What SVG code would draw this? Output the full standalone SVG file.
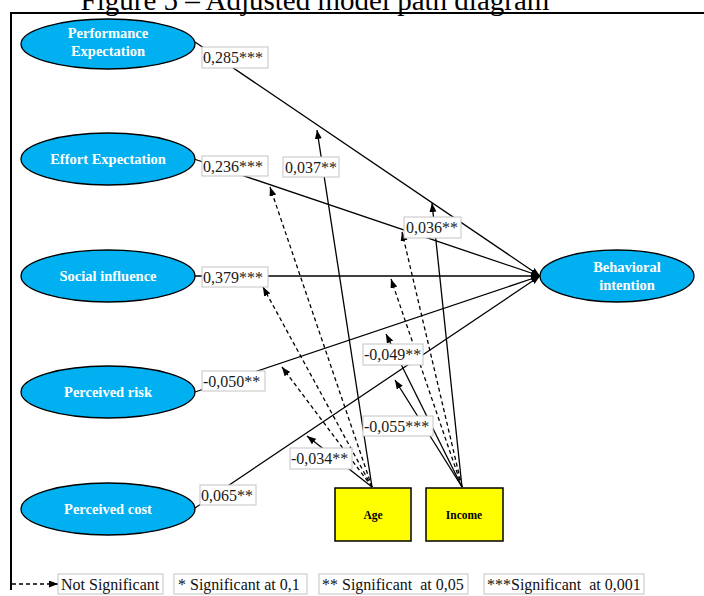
<svg xmlns="http://www.w3.org/2000/svg" width="704" height="596" viewBox="0 0 704 596">
<defs>
<marker id="ah" markerUnits="userSpaceOnUse" markerWidth="10" markerHeight="8" refX="9" refY="3.5" orient="auto">
<path d="M0,0 L9,3.5 L0,7 z" fill="#000"/>
</marker>
<style>
.ell{fill:#00B0F0;stroke:#000;stroke-width:1.3}
.et{font-family:"Liberation Serif","Times New Roman",serif;font-weight:bold;font-size:14.5px;fill:#fff;text-anchor:middle}
.box{fill:#FFFF00;stroke:#000;stroke-width:1.5}
.bt{font-family:"Liberation Serif","Times New Roman",serif;font-weight:bold;font-size:11.5px;fill:#000;text-anchor:middle}
.ln{stroke:#000;stroke-width:1.3;fill:none}
.arr{marker-end:url(#ah)}
.dash{stroke-dasharray:4 3}
.lb{fill:#fff;stroke:#c4c4c4;stroke-width:1}
.lt{font-family:"Liberation Serif","Times New Roman",serif;font-size:16px;fill:#1a1a1a}
.lg{font-family:"Liberation Serif","Times New Roman",serif;font-size:16px;fill:#111;white-space:pre}
</style>
</defs>
<rect width="704" height="596" fill="#fff"/>
<text x="315" y="10" font-family="'Liberation Serif','Times New Roman',serif" font-size="29" fill="#000" text-anchor="middle">Figure 5 – Adjusted model path diagram</text>
<g id="frame">
<line x1="10" y1="13" x2="704" y2="13" stroke="#000" stroke-width="2"/>
<line x1="11" y1="12" x2="11" y2="590" stroke="#000" stroke-width="2"/>
</g>
<g id="connectors">
<line class="ln arr" x1="195" y1="42" x2="540" y2="276"/>
<line class="ln arr" x1="194" y1="159" x2="540" y2="276"/>
<line class="ln arr" x1="195" y1="276" x2="540" y2="276"/>
<line class="ln arr" x1="195" y1="392" x2="540" y2="276"/>
<line class="ln arr" x1="195" y1="508" x2="540" y2="276"/>
<line class="ln arr" x1="372" y1="487" x2="317" y2="130"/>
<line class="ln arr" x1="372" y1="487" x2="307" y2="436"/>
<line class="ln arr dash" x1="372" y1="487" x2="270" y2="187"/>
<line class="ln arr dash" x1="372" y1="487" x2="263" y2="287"/>
<line class="ln arr dash" x1="372" y1="487" x2="282" y2="367"/>
<line class="ln arr" x1="462" y1="487" x2="432" y2="203"/>
<line class="ln arr" x1="462" y1="487" x2="386" y2="334"/>
<line class="ln arr" x1="462" y1="487" x2="395" y2="380"/>
<line class="ln arr dash" x1="462" y1="487" x2="402" y2="232"/>
<line class="ln arr dash" x1="462" y1="487" x2="391" y2="279"/>
</g>
<g id="labels">
<rect class="lb" x="202" y="47" width="66" height="21"/><text class="lt" x="203" y="63">0,285***</text>
<rect class="lb" x="202" y="156" width="66" height="20"/><text class="lt" x="203" y="172">0,236***</text>
<rect class="lb" x="202" y="267" width="66" height="20"/><text class="lt" x="203" y="283">0,379***</text>
<rect class="lb" x="202" y="371" width="63" height="20"/><text class="lt" x="203" y="387">-0,050**</text>
<rect class="lb" x="200" y="485" width="56" height="20"/><text class="lt" x="201" y="501">0,065**</text>
<rect class="lb" x="283" y="157" width="56" height="20"/><text class="lt" x="285" y="173">0,037**</text>
<rect class="lb" x="404" y="217" width="57" height="21"/><text class="lt" x="406" y="233">0,036**</text>
<rect class="lb" x="363" y="344" width="60" height="21"/><text class="lt" x="364" y="360">-0,049**</text>
<rect class="lb" x="363" y="416" width="70" height="20"/><text class="lt" x="364" y="432">-0,055***</text>
<rect class="lb" x="290" y="448" width="62" height="21"/><text class="lt" x="291" y="464">-0,034**</text>
</g>
<g id="perf"><ellipse class="ell" cx="108" cy="44" rx="87" ry="25"/><text class="et" x="108" y="38">Performance</text><text class="et" x="108" y="56">Expectation</text></g>
<g id="effort"><ellipse class="ell" cx="108" cy="159" rx="87" ry="26"/><text class="et" x="108" y="164">Effort Expectation</text></g>
<g id="social"><ellipse class="ell" cx="108" cy="276" rx="87" ry="26"/><text class="et" x="108" y="281">Social influence</text></g>
<g id="risk"><ellipse class="ell" cx="108" cy="392" rx="87" ry="26"/><text class="et" x="108" y="397">Perceived risk</text></g>
<g id="cost"><ellipse class="ell" cx="108" cy="509" rx="87" ry="26"/><text class="et" x="108" y="514">Perceived cost</text></g>
<g id="bi"><ellipse class="ell" cx="617" cy="276" rx="77" ry="26"/><text class="et" x="627" y="272">Behavioral</text><text class="et" x="627" y="290">intention</text></g>
<g id="age"><rect class="box" x="335" y="488" width="76" height="53"/><text class="bt" x="373" y="519">Age</text></g>
<g id="income"><rect class="box" x="426" y="488" width="77" height="53"/><text class="bt" x="464" y="519">Income</text></g>
<g id="legend">
<line class="ln arr dash" x1="12" y1="584" x2="58" y2="584"/>
<rect class="lb" x="58" y="574" width="105" height="20"/><text class="lg" x="61" y="590">Not Significant</text>
<rect class="lb" x="174" y="574" width="133" height="20"/><text class="lg" x="178" y="590">* Significant at 0,1</text>
<rect class="lb" x="319" y="574" width="149" height="20"/><text class="lg" x="322" y="590">** Significant  at 0,05</text>
<rect class="lb" x="484" y="574" width="160" height="20"/><text class="lg" x="487" y="590">***Significant  at 0,001</text>
</g>
</svg>
